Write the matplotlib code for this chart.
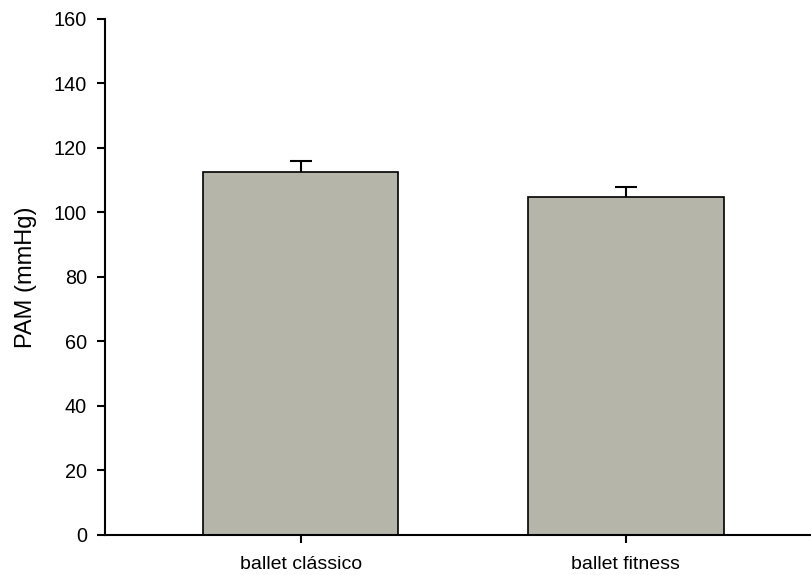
import matplotlib
matplotlib.use("Agg")
import matplotlib.pyplot as plt

groups = ["ballet clássico", "ballet fitness"]
pam_mean = [112.5, 104.7]
pam_err = [3.5, 3.3]
yticks = [0, 20, 40, 60, 80, 100, 120, 140, 160]

plt.rcParams["font.family"] = ["Liberation Sans", "DejaVu Sans"]

fig = plt.figure(figsize=(8.11, 5.75), dpi=100)
ax = fig.add_axes([0.1295, 0.0696, 0.8705, 0.8974])

x = list(range(len(groups)))
# symmetric error bars drawn behind the bars so only the upper half shows
ax.errorbar(x, pam_mean, yerr=pam_err, fmt="none",
            ecolor="black", elinewidth=1.5, capsize=8, capthick=1.5, zorder=1)
ax.bar(x, pam_mean, width=0.6, color="#b5b5a9", edgecolor="black", linewidth=1.2, zorder=2)

ax.set_xlim(-0.6016, 1.569)
ax.set_ylim(0, 160)
ax.set_yticks(yticks)
ax.set_xticks(x)
ax.set_xticklabels(groups, fontsize=14)
ax.tick_params(axis="y", labelsize=14.3, length=6, width=1.5, direction="out", pad=7)
ax.tick_params(axis="x", length=6, width=1.5, direction="out", pad=9)
ax.set_ylabel("PAM (mmHg)", fontsize=17, labelpad=12)

for side in ("top", "right"):
    ax.spines[side].set_visible(False)
for side in ("left", "bottom"):
    ax.spines[side].set_linewidth(1.5)

fig.savefig("out.png", dpi=100)
